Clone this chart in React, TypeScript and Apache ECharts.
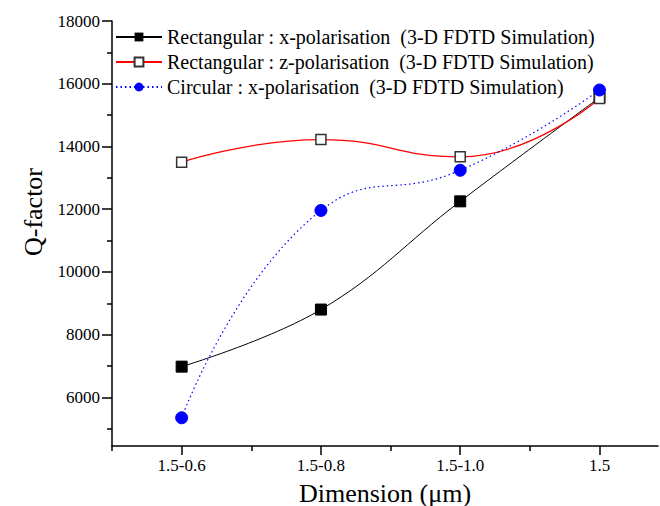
import React, { useEffect, useRef } from "react";
import * as echarts from "echarts";

const categories = ["1.5-0.6", "1.5-0.8", "1.5-1.0", "1.5"];
const rectX = [6980, 8800, 12250, 15560];
const rectZ = [13500, 14220, 13670, 15530];
const circX = [5350, 11960, 13240, 15800];
const yMajorTicks = [6000, 8000, 10000, 12000, 14000, 16000, 18000];
const yMinorTicks = [5000, 7000, 9000, 11000, 13000, 15000, 17000];
const xMajorTicks = [0, 1, 2, 3];
const xMinorTicks = [-0.5, 0.5, 1.5, 2.5];
const names = [
  "Rectangular : x-polarisation  (3-D FDTD Simulation)",
  "Rectangular : z-polarisation  (3-D FDTD Simulation)",
  "Circular : x-polarisation  (3-D FDTD Simulation)",
];

const FONT = "Liberation Serif";

export default function App() {
  const ref = useRef<HTMLDivElement>(null);
  useEffect(() => {
    if (!ref.current) return;
    const chart = echarts.init(ref.current, null, { renderer: "svg" });
    const toPts = (arr: number[]) => arr.map((v, i) => [i, v]);
    const axisLine = { show: true, onZero: false, lineStyle: { color: "#000", width: 1.5 } };
    const tickRich = { t: { fontFamily: FONT, fontSize: 17, color: "#000" } };
    chart.setOption({
      animation: false,
      backgroundColor: "#fff",
      textStyle: { fontFamily: FONT },
      grid: { left: 112, right: 2, top: 21, bottom: 60, containLabel: false, outerBoundsMode: "none" },
      legend: {
        orient: "vertical",
        left: 115,
        top: 27,
        padding: 0,
        itemWidth: 46,
        itemHeight: 11,
        itemGap: 5,
        textStyle: { fontFamily: FONT, fontSize: 20, color: "#000", lineHeight: 20 },
        data: names,
      },
      xAxis: [
        {
          type: "value",
          min: -0.5,
          max: 3.42,
          axisLine,
          splitLine: { show: false },
          axisTick: { show: true, customValues: xMajorTicks, length: 9, lineStyle: { color: "#000", width: 1.5 } },
          axisLabel: {
            customValues: xMajorTicks,
            formatter: (v: number) => "{t|" + (categories[Math.round(v)] ?? "") + "}",
            rich: tickRich,
            fontFamily: FONT,
            fontSize: 17,
            color: "#000",
            margin: 11,
          },
          name: "{n|Dimension (μm)}",
          nameLocation: "middle",
          nameGap: 34,
          nameTextStyle: {
            fontFamily: FONT,
            fontSize: 26,
            color: "#000",
            rich: { n: { fontFamily: FONT, fontSize: 26, color: "#000" } },
          },
        },
        {
          type: "value",
          min: -0.5,
          max: 3.42,
          position: "bottom",
          axisLine: { show: false, onZero: false },
          splitLine: { show: false },
          axisTick: { show: true, customValues: xMinorTicks, length: 5, lineStyle: { color: "#000", width: 1.5 } },
          axisLabel: { show: false },
        },
      ],
      yAxis: [
        {
          type: "value",
          min: 4450,
          max: 18000,
          axisLine,
          splitLine: { show: false },
          axisTick: { show: true, customValues: yMajorTicks, length: 10, lineStyle: { color: "#000", width: 1.5 } },
          axisLabel: {
            customValues: yMajorTicks,
            formatter: (v: number) => "{t|" + String(v) + "}",
            rich: tickRich,
            fontFamily: FONT,
            fontSize: 17,
            color: "#000",
            margin: 12,
          },
        },
        {
          type: "value",
          min: 4450,
          max: 18000,
          position: "left",
          axisLine: { show: false, onZero: false },
          splitLine: { show: false },
          axisTick: { show: true, customValues: yMinorTicks, length: 5, lineStyle: { color: "#000", width: 1.5 } },
          axisLabel: { show: false },
        },
      ],
      graphic: [
        {
          type: "text",
          x: 33,
          y: 212,
          rotation: Math.PI / 2,
          style: {
            text: "Q-factor",
            fontFamily: FONT,
            fontSize: 26,
            fill: "#000",
            align: "center",
            verticalAlign: "middle",
          },
        },
      ],
      series: [
        {
          name: names[0],
          type: "line",
          data: toPts(rectX),
          smooth: 0.4,
          symbol: "rect",
          symbolSize: 11,
          lineStyle: { color: "#000", width: 1 },
          itemStyle: { color: "#000", borderColor: "#000" },
        },
        {
          name: names[1],
          type: "line",
          data: toPts(rectZ),
          smooth: 0.5,
          symbol: "rect",
          symbolSize: 10,
          lineStyle: { color: "#ff0000", width: 1.2 },
          itemStyle: { color: "#fff", borderColor: "#333", borderWidth: 1.5 },
        },
        {
          name: names[2],
          type: "line",
          data: toPts(circX),
          smooth: 0.5,
          symbol: "circle",
          symbolSize: 12,
          lineStyle: { color: "#0000ff", width: 1.2, type: [1.5, 3] },
          itemStyle: { color: "#0000ff", borderColor: "#0000ff" },
        },
      ],
    });
    return () => chart.dispose();
  }, []);
  return (
    <div
      ref={ref}
      style={{ position: "fixed", left: 0, top: 0, width: 660, height: 506, background: "#fff" }}
    />
  );
}
